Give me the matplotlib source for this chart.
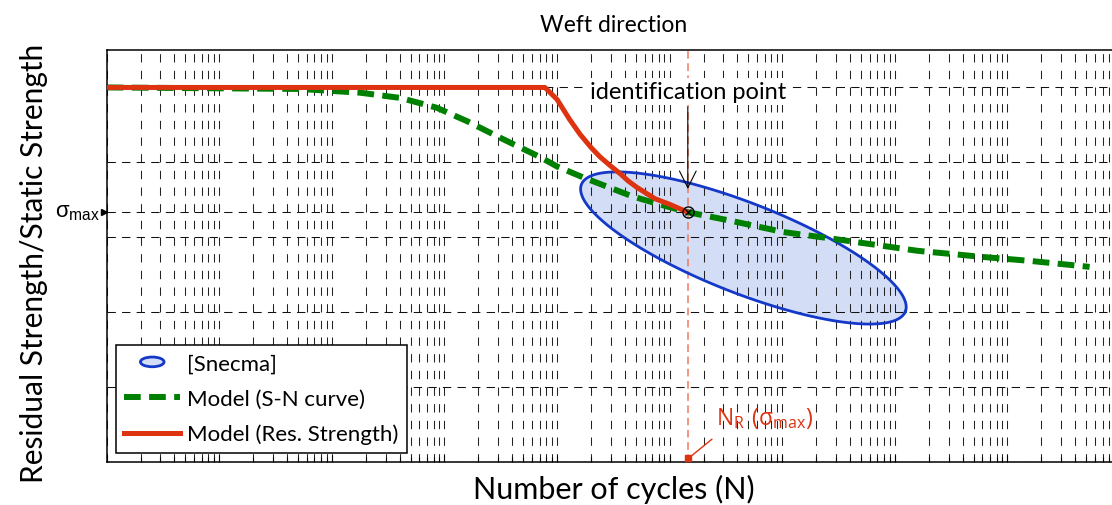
import numpy as np
import matplotlib
matplotlib.use("Agg")
import matplotlib.pyplot as plt
import matplotlib.patches as mpatches
from matplotlib.lines import Line2D
from matplotlib.legend_handler import HandlerPatch

plt.rcParams['font.family'] = ['Lato', 'DejaVu Sans']

# ---------------- data ----------------
sn_cycles = [1, 52, 178, 407, 851, 1585, 3311, 7079, 1.0e4, 1.7e4, 4.68e4, 8.13e4,
             1.45e5, 3.63e5, 1.02e6, 2.82e6, 1.58e7, 6.3e7, 1.58e8, 5.37e8]
sn_strength = [1.0, 0.996, 0.986, 0.972, 0.946, 0.91, 0.862, 0.814, 0.789, 0.760,
               0.709, 0.688, 0.667, 0.643, 0.614, 0.596, 0.564, 0.547, 0.537, 0.521]

rs_cycles = [1, 7.8e3, 1.0e4, 1.29e4, 1.6e4, 2.0e4, 2.4e4, 3.0e4, 3.63e4, 4.3e4,
             5.13e4, 7.41e4, 1.0e5, 1.45e5]
rs_strength = [1.0, 1.0, 0.968, 0.915, 0.875, 0.84, 0.815, 0.79, 0.77, 0.75,
               0.733, 0.703, 0.688, 0.667]

sigma_max = 0.667
N_R = 1.45e5

# Snecma scatter ellipse: centre (log10 N, strength) and two conjugate semi-diameters
ell_center = (5.655, 0.5714)
ell_semi_a = (1.4387, -0.1696)
ell_semi_b = (-0.1456, -0.1119)

grid_levels = [0.0, 0.2, 0.4, 0.6, 0.8, 1.0]

labels = ['[Snecma]', 'Model (S-N curve)', 'Model (Res. Strength)']

RED = '#dd3311'
GREEN = '#008000'
BLUE = '#1438c8'
FILL = '#d3ddf6'

# ---------------- figure ----------------
fig = plt.figure(figsize=(11.12, 5.06), dpi=100)
ax = fig.add_axes([106.7 / 1112, 43 / 506, 1013.3 / 1112, 412 / 506])
ax.set_xscale('log')
ax.set_xlim(1, 1e9)
ax.set_ylim(0, 1.1)
ax.set_axisbelow(True)

ax.set_yticks(grid_levels + [sigma_max])
ax.set_yticklabels([])
ax.tick_params(axis='y', length=0)
ax.tick_params(axis='x', which='both', direction='in', labelbottom=False)
ax.tick_params(axis='x', which='major', length=5, width=0.8)
ax.tick_params(axis='x', which='minor', length=3.5, width=0.8)
ax.xaxis.set_minor_locator(matplotlib.ticker.LogLocator(base=10, subs=np.arange(2, 10)))
ax.xaxis.set_minor_formatter(matplotlib.ticker.NullFormatter())

ax.grid(True, axis='y', which='major', color='#111111', lw=0.75, linestyle=(0, (8, 6)))
ax.grid(True, axis='x', which='both', color='#222222', lw=0.75, linestyle=(0, (8, 8)))

for s in ['left', 'bottom', 'top', 'right']:
    ax.spines[s].set_linewidth(1.1)

# ellipse
t = np.linspace(0, 2 * np.pi, 300)
ex = 10 ** (ell_center[0] + np.cos(t) * ell_semi_a[0] + np.sin(t) * ell_semi_b[0])
ey = ell_center[1] + np.cos(t) * ell_semi_a[1] + np.sin(t) * ell_semi_b[1]
ax.fill(ex, ey, facecolor=FILL, edgecolor='none', zorder=0.3)
ax.plot(ex, ey, color=BLUE, lw=2.0, zorder=2.2)

# N_R vertical line
ax.axvline(N_R, color='#f07a5e', lw=1.1, linestyle=(0, (5, 3)), zorder=1.5)

# curves
ax.plot(sn_cycles, sn_strength, color=GREEN, lw=4.3, dashes=(2.8, 1.4), zorder=2.5)
ax.plot(rs_cycles, rs_strength, color=RED, lw=3.6, solid_capstyle='butt',
        solid_joinstyle='round', zorder=2.6)

# identification point
ax.plot([N_R], [sigma_max], marker='o', mfc='none', mec='k', ms=8, mew=1.0, zorder=4)
ax.plot([N_R], [sigma_max], marker='x', color='k', ms=5, mew=0.9, zorder=4)
ax.text(N_R, 0.99, 'identification point', ha='center', va='center', fontsize=17,
        bbox=dict(facecolor='white', edgecolor='none', pad=2), zorder=5)
ax.annotate('', xy=(N_R, 0.729), xytext=(N_R, 0.948),
            arrowprops=dict(arrowstyle='->', color='k', lw=0.8, mutation_scale=30,
                            shrinkA=0, shrinkB=0), zorder=5)

# N_R label
ax.plot([N_R], [0.011], marker='s', color=RED, ms=5, clip_on=False, zorder=5)
ax.annotate('', xy=(10 ** 5.18, 0.013), xytext=(10 ** 5.376, 0.061),
            arrowprops=dict(arrowstyle='-', color=RED, lw=1.0, shrinkA=0, shrinkB=0))
ax.text(10 ** 5.41, 0.101, r'$\mathregular{N_R\ (σ_{max})}$', color=RED, fontsize=16.5,
        family='Open Sans', ha='left', va='baseline')

# sigma_max tick label + marker
ax.plot([-0.0028], [sigma_max], marker='>', color='k', ms=5,
        transform=ax.get_yaxis_transform(), clip_on=False)
ax.annotate(r'$\mathregular{σ_{max}}$', xy=(0, sigma_max), xycoords=ax.get_yaxis_transform(),
            xytext=(-5, -3), textcoords='offset points', ha='right', va='baseline',
            family='Liberation Sans', fontsize=16)

# titles
ax.text(0.5, 1.046, 'Weft direction', transform=ax.transAxes, ha='center', va='baseline',
        fontsize=16.5)
ax.set_xlabel('Number of cycles (N)', fontsize=22)
ax.xaxis.set_label_coords(0.5, -0.03)
ax.set_ylabel('Residual Strength/Static Strength', fontsize=21.5)
ax.yaxis.set_label_coords(-0.058, 0.485)


# legend
def make_ellipse(legend, orig_handle, xdescent, ydescent, width, height, fontsize):
    return mpatches.Ellipse((-xdescent + width / 2, -ydescent + height / 2), 17, 7)


h_ell = mpatches.Patch(facecolor=FILL, edgecolor=BLUE, lw=2.0)
h_sn = Line2D([], [], color=GREEN, lw=4.3, dashes=(2.8, 1.4))
h_rs = Line2D([], [], color=RED, lw=3.6)
leg = ax.legend([h_ell, h_sn, h_rs], labels, loc='lower left',
                bbox_to_anchor=(0.0092, 0.022), borderaxespad=0, fontsize=16,
                fancybox=False, framealpha=1, edgecolor='k', handlelength=2.5,
                handletextpad=0.32, labelspacing=0.68, borderpad=0.38,
                handler_map={mpatches.Patch: HandlerPatch(patch_func=make_ellipse)})
leg.get_frame().set_linewidth(1.1)

fig.savefig('out.png', dpi=100)
